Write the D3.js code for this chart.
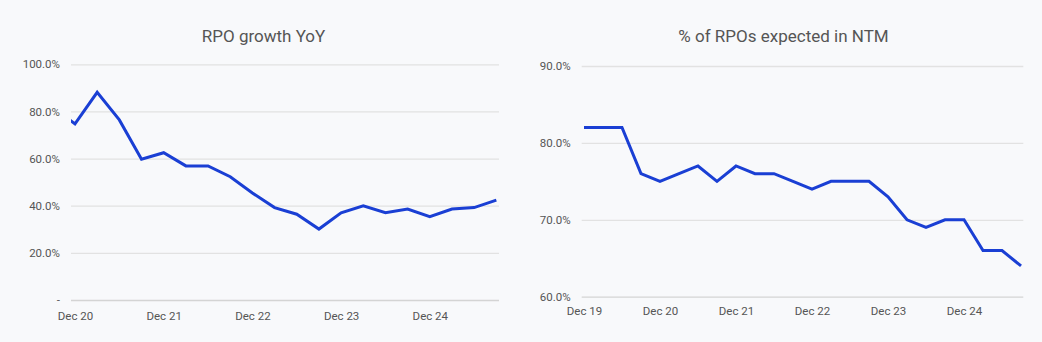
<!DOCTYPE html>
<html><head><meta charset="utf-8">
<script src="https://cdn.jsdelivr.net/npm/d3@7"></script>
<style>body{margin:0;background:#f8f9fb;overflow:hidden}</style></head>
<body><svg id="c" width="1042" height="342"></svg>
<script>
// ---- data ----
const quartersGrowth = ["Sep 20","Dec 20","Mar 21","Jun 21","Sep 21","Dec 21","Mar 22","Jun 22","Sep 22","Dec 22","Mar 23","Jun 23","Sep 23","Dec 23","Mar 24","Jun 24","Sep 24","Dec 24","Mar 25","Jun 25","Sep 25"];
const rpoGrowth = [82, 74.7, 88.1, 76.4, 59.7, 62.5, 56.9, 56.9, 52.3, 45.4, 39.2, 36.4, 30.1, 37.0, 40.0, 37.0, 38.6, 35.4, 38.6, 39.2, 42.4];
const quartersNtm = ["Dec 19","Mar 20","Jun 20","Sep 20","Dec 20","Mar 21","Jun 21","Sep 21","Dec 21","Mar 22","Jun 22","Sep 22","Dec 22","Mar 23","Jun 23","Sep 23","Dec 23","Mar 24","Jun 24","Sep 24","Dec 24","Mar 25","Jun 25","Sep 25"];
const ntmShare = [82, 82, 82, 76, 75, 76, 77, 75, 77, 76, 76, 75, 74, 75, 75, 75, 73, 70, 69, 70, 70, 66, 66, 64];
const growthTicks = [0, 20, 40, 60, 80, 100];
const ntmTicks = [60, 70, 80, 90];
const xTickLabelsGrowth = ["Dec 20","Dec 21","Dec 22","Dec 23","Dec 24"];
const xTickLabelsNtm = ["Dec 19","Dec 20","Dec 21","Dec 22","Dec 23","Dec 24"];

const svg = d3.select("#c");
const FONT = "Roboto, 'Noto Sans', sans-serif";
const LINE = "#1a3fd4";
const TXT = "#555";

function panel(cfg){
  const g = svg.append("g");
  const x = d3.scaleLinear().domain(cfg.xDomain).range([cfg.x0, cfg.x1]);
  const y = d3.scaleLinear().domain(cfg.yDomain).range([cfg.yBottom, cfg.yTop]);
  // title
  g.append("text").attr("x", cfg.titleX).attr("y", 42).attr("text-anchor","middle")
    .attr("font-family", FONT).attr("font-size", 17).attr("fill", "#555").text(cfg.title);
  // gridlines
  const ya = d3.axisLeft(y).tickValues(cfg.yTicks).tickSize(-(cfg.x1 - cfg.x0)).tickPadding(11)
    .tickFormat(v => v === 0 ? "-" : d3.format(".1f")(v) + "%");
  const yg = g.append("g").attr("transform", `translate(${cfg.x0},0)`).call(ya);
  yg.select(".domain").remove();
  yg.selectAll(".tick line").attr("stroke", (d,i)=> i===0 ? "#d4d4d4" : "#e2e2e2").attr("stroke-width", 1.3);
  yg.selectAll(".tick text").attr("font-family", FONT).attr("font-size", 11.5).attr("fill", TXT);
  // x labels
  const labels = cfg.xLabels;
  const idx = labels.map(l => cfg.quarters.indexOf(l));
  const xa = d3.axisBottom(x).tickValues(idx).tickSize(0).tickPadding(cfg.xPad)
    .tickFormat((d,i) => labels[i]);
  const xg = g.append("g").attr("transform", `translate(0,${cfg.yBottom})`).call(xa);
  xg.select(".domain").remove();
  xg.selectAll(".tick text").attr("font-family", FONT).attr("font-size", 11.5).attr("fill", TXT);
  // clip
  const cid = "clip" + cfg.id;
  svg.append("clipPath").attr("id", cid).append("rect")
    .attr("x", cfg.x0).attr("y", cfg.yTop - 10).attr("width", cfg.x1 - cfg.x0).attr("height", cfg.yBottom - cfg.yTop + 20);
  const line = d3.line().x((d,i) => x(i)).y(d => y(d));
  g.append("path").datum(cfg.values).attr("d", line).attr("fill","none")
    .attr("stroke", LINE).attr("stroke-width", 3).attr("stroke-linejoin","miter")
    .attr("clip-path", `url(#${cid})`);
}

panel({id:"L", title:"RPO growth YoY", titleX:263.5, x0:71, x1:499, xDomain:[0.82, 20.12],
  yTop:64.3, yBottom:300, yDomain:[0,100], yTicks:growthTicks, quarters:quartersGrowth,
  values:rpoGrowth, xLabels:xTickLabelsGrowth, xPad:12});
panel({id:"R", title:"% of RPOs expected in NTM", titleX:783.5, x0:581.7, x1:1023.3, xDomain:[-0.12, 23.12],
  yTop:66, yBottom:296.7, yDomain:[60,90], yTicks:ntmTicks, quarters:quartersNtm,
  values:ntmShare, xLabels:xTickLabelsNtm, xPad:10});
</script></body></html>
